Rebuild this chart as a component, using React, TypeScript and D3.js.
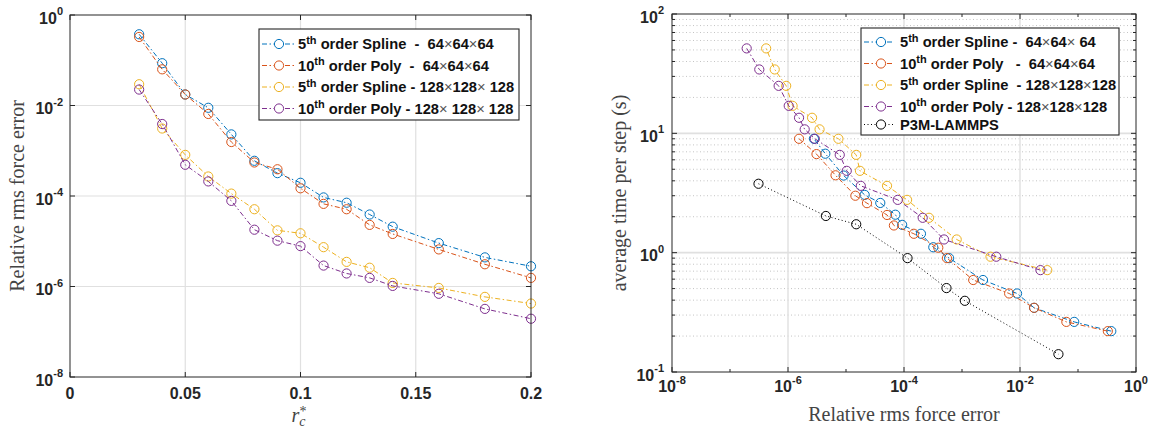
import React from 'react';
import * as d3 from 'd3';

// ---------- data ----------
const rc = [0.03, 0.04, 0.05, 0.06, 0.07, 0.08, 0.09, 0.10, 0.11, 0.12, 0.13, 0.14, 0.16, 0.18, 0.20];
const errSpline64 = [0.375, 0.086, 0.0175, 0.0089, 0.0023, 6.0e-4, 3.2e-4, 1.96e-4, 9.3e-5, 7.1e-5, 3.9e-5, 2.1e-5, 9.1e-6, 4.4e-6, 2.8e-6];
const errPoly64 = [0.327, 0.063, 0.0175, 0.0065, 0.00156, 5.5e-4, 3.9e-4, 1.48e-4, 6.7e-5, 5.1e-5, 2.3e-5, 1.45e-5, 6.6e-6, 3.1e-6, 1.55e-6];
const errSpline128 = [0.0295, 0.0031, 8.1e-4, 2.7e-4, 1.13e-4, 5.1e-5, 1.74e-5, 1.5e-5, 7.4e-6, 3.5e-6, 2.6e-6, 1.2e-6, 9.3e-7, 5.9e-7, 4.2e-7];
const errPoly128 = [0.0225, 0.0039, 4.9e-4, 2.1e-4, 7.8e-5, 1.8e-5, 1.03e-5, 7.8e-6, 2.9e-6, 1.94e-6, 1.55e-6, 1.03e-6, 6.9e-7, 3.2e-7, 1.94e-7];

const timeSpline64 = [0.22, 0.263, 0.345, 0.455, 0.59, 0.90, 1.11, 1.44, 1.71, 2.08, 2.61, 3.05, 4.43, 6.75, 9.0];
const timePoly64 = [0.22, 0.263, 0.345, 0.455, 0.59, 0.90, 1.10, 1.44, 1.69, 2.07, 2.6, 3.0, 4.45, 6.7, 9.0];
const timeSpline128 = [0.714, 0.925, 1.29, 1.96, 2.77, 3.63, 4.85, 6.6, 9.0, 10.8, 13.5, 17.0, 25.0, 34.3, 51.5];
const timePoly128 = [0.714, 0.925, 1.29, 1.96, 2.77, 3.63, 4.85, 6.6, 9.0, 10.8, 13.5, 17.0, 25.0, 34.3, 51.5];

const errP3M = [3.1e-7, 4.5e-6, 1.5e-5, 1.15e-4, 5.4e-4, 1.12e-3, 0.046];
const timeP3M = [3.78, 2.03, 1.73, 0.90, 0.505, 0.395, 0.141];

const leftXTicks = [0, 0.05, 0.1, 0.15, 0.2];
const leftXTickLabels = ['0', '0.05', '0.1', '0.15', '0.2'];
const leftYTickExps = [0, -2, -4, -6, -8];
const rightXTickExps = [-8, -6, -4, -2, 0];
const rightYTickExps = [2, 1, 0, -1];

const leftLegend = [
  ['5', 'th', ' order Spline  -  64×64×64'],
  ['10', 'th', ' order Poly  -  64×64×64'],
  ['5', 'th', ' order Spline - 128×128× 128'],
  ['10', 'th', ' order Poly - 128× 128× 128'],
];
const rightLegend = [
  ['5', 'th', ' order Spline -  64×64× 64'],
  ['10', 'th', ' order Poly   -  64×64×64'],
  ['5', 'th', ' order Spline  - 128×128×128'],
  ['10', 'th', ' order Poly - 128×128×128'],
  ['P3M-LAMMPS', '', ''],
];

const COLORS = ['#0072BD', '#D95319', '#EDB120', '#7E2F8E', '#000000'];
const DASHDOT = '5,2.5,1.5,2.5';
const DOTTED = '1,2.5';

const SANS = '"Liberation Sans", Arial, Helvetica, sans-serif';
const SERIF = '"Liberation Serif", "Times New Roman", serif';
const AXIS = '#262626';
const GRID = '#e0e0e0';

function Pow10({ x, y, exp, anchor }: { x: number; y: number; exp: number; anchor: string }) {
  return (
    <text x={x} y={y} textAnchor={anchor} fontFamily={SANS} fontWeight="bold" fontSize={16} fill={AXIS}>
      <tspan>10</tspan>
      <tspan dy={-8.5} fontSize={11}>{String(exp)}</tspan>
    </text>
  );
}

function LegendText({ x, y, parts }: { x: number; y: number; parts: string[] }) {
  const [num, sup, rest] = parts;
  const pieces = rest.split('×');
  const out: any[] = [];
  out.push(<tspan key="n">{num}</tspan>);
  if (sup) out.push(<tspan key="s" dy={-5.5} fontSize={11}>{sup}</tspan>);
  pieces.forEach((p, i) => {
    if (i > 0) out.push(<tspan key={'x' + i} fontWeight="normal" fill="#555">×</tspan>);
    out.push(<tspan key={'p' + i} dy={i === 0 && sup ? 5.5 : 0}>{p}</tspan>);
  });
  return (
    <text x={x} y={y} fontFamily={SANS} fontWeight="bold" fontSize={14.7} fill="#111" style={{ whiteSpace: 'pre' }}>
      {out}
    </text>
  );
}

export default function App() {
  // left axes
  const L = { x0: 70, x1: 531, y0: 15, y1: 377 };
  const lx = d3.scaleLinear().domain([0, 0.2]).range([L.x0, L.x1]);
  const ly = d3.scaleLog().domain([1e-8, 1]).range([L.y1, L.y0]);
  // right axes
  const R = { x0: 672, x1: 1136, y0: 14, y1: 372 };
  const rx = d3.scaleLog().domain([1e-8, 1]).range([R.x0, R.x1]);
  const ry = d3.scaleLog().domain([0.1, 100]).range([R.y1, R.y0]);

  const leftSeries = [errSpline64, errPoly64, errSpline128, errPoly128];
  const rightSeries = [
    { xs: errSpline64, ys: timeSpline64 },
    { xs: errPoly64, ys: timePoly64 },
    { xs: errSpline128, ys: timeSpline128 },
    { xs: errPoly128, ys: timePoly128 },
    { xs: errP3M, ys: timeP3M },
  ];

  const lineL = d3.line<[number, number]>().x((d) => lx(d[0])).y((d) => ly(d[1]));
  const lineR = d3.line<[number, number]>().x((d) => rx(d[0])).y((d) => ry(d[1]));

  const minorY: number[] = [];
  [0.1, 1, 10].forEach((b) => {
    for (let k = 2; k <= 9; k++) minorY.push(b * k);
  });
  const minorXExps = [-7, -5, -3, -1];

  const TK = 5;
  const lcx = (L.x0 + L.x1) / 2;

  return (
    <svg width={1157} height={428} style={{ position: 'absolute', left: 0, top: 0, background: '#fff' }}>
      <rect x={0} y={0} width={1157} height={428} fill="#fff" />

      {/* ===== LEFT PLOT ===== */}
      <g>
        {leftXTicks.slice(1, -1).map((t) => (
          <line key={'lgx' + t} x1={lx(t)} x2={lx(t)} y1={L.y0} y2={L.y1} stroke={GRID} strokeWidth={1.2} />
        ))}
        {leftYTickExps.slice(1, -1).map((e) => (
          <line key={'lgy' + e} x1={L.x0} x2={L.x1} y1={ly(Math.pow(10, e))} y2={ly(Math.pow(10, e))} stroke={GRID} strokeWidth={1.2} />
        ))}
        {leftSeries.map((s, i) => {
          const pts = rc.map((r, j) => [r, s[j]] as [number, number]);
          return (
            <g key={'ls' + i}>
              <path d={lineL(pts) || ''} fill="none" stroke={COLORS[i]} strokeWidth={1} strokeDasharray={DASHDOT} />
              {pts.map((p, j) => (
                <circle key={j} cx={lx(p[0])} cy={ly(p[1])} r={4.6} fill="none" stroke={COLORS[i]} strokeWidth={1} />
              ))}
            </g>
          );
        })}
        <rect x={L.x0} y={L.y0} width={L.x1 - L.x0} height={L.y1 - L.y0} fill="none" stroke={AXIS} strokeWidth={1} />
        {leftXTicks.map((t) => (
          <g key={'ltx' + t}>
            <line x1={lx(t)} x2={lx(t)} y1={L.y1} y2={L.y1 - TK} stroke={AXIS} />
            <line x1={lx(t)} x2={lx(t)} y1={L.y0} y2={L.y0 + TK} stroke={AXIS} />
          </g>
        ))}
        {leftYTickExps.map((e) => (
          <g key={'lty' + e}>
            <line x1={L.x0} x2={L.x0 + TK} y1={ly(Math.pow(10, e))} y2={ly(Math.pow(10, e))} stroke={AXIS} />
            <line x1={L.x1} x2={L.x1 - TK} y1={ly(Math.pow(10, e))} y2={ly(Math.pow(10, e))} stroke={AXIS} />
          </g>
        ))}
        {leftXTicks.map((t, i) => (
          <text key={'ltl' + t} x={lx(t)} y={L.y1 + 22} textAnchor="middle" fontFamily={SANS} fontWeight="bold" fontSize={16} fill={AXIS}>
            {leftXTickLabels[i]}
          </text>
        ))}
        {leftYTickExps.map((e) => (
          <Pow10 key={'lyl' + e} x={L.x0 - 7} y={ly(Math.pow(10, e)) + 8.5} exp={e} anchor="end" />
        ))}
        <text transform={`translate(24,${(L.y0 + L.y1) / 2}) rotate(-90)`} textAnchor="middle" fontFamily={SERIF} fontSize={20} fill="#444">
          Relative rms force error
        </text>
        {/* r_c^* as one text */}
        <text x={lcx - 9} y={422} fontFamily={SERIF} fontStyle="italic" fontSize={20} fill="#444">
          <tspan>r</tspan>
          <tspan dy={4} fontSize={14}>c</tspan>
          <tspan dx={-6} dy={-10} fontSize={14} fontStyle="normal">*</tspan>
        </text>

        {/* legend */}
        <rect x={259} y={29} width={260} height={91} fill="#fff" stroke={AXIS} strokeWidth={1.1} />
        {leftLegend.map((parts, i) => {
          const y = 44 + i * 21.5;
          return (
            <g key={'lleg' + i}>
              <line x1={262} x2={294} y1={y} y2={y} stroke={COLORS[i]} strokeWidth={1} strokeDasharray={DASHDOT} />
              <circle cx={279} cy={y} r={4.6} fill="#fff" stroke={COLORS[i]} strokeWidth={1} />
              <LegendText x={298} y={y + 5} parts={parts} />
            </g>
          );
        })}
      </g>

      {/* ===== RIGHT PLOT ===== */}
      <g>
        {minorY.filter((v) => v !== 1 && v !== 10).map((v) => (
          <line key={'rmy' + v} x1={R.x0} x2={R.x1} y1={ry(v)} y2={ry(v)} stroke="#c4c4c4" strokeWidth={1} strokeDasharray={DOTTED} />
        ))}
        {rightXTickExps.slice(1, -1).map((e) => (
          <line key={'rgx' + e} x1={rx(Math.pow(10, e))} x2={rx(Math.pow(10, e))} y1={R.y0} y2={R.y1} stroke={GRID} strokeWidth={1.4} />
        ))}
        {rightYTickExps.slice(1, -1).map((e) => (
          <line key={'rgy' + e} x1={R.x0} x2={R.x1} y1={ry(Math.pow(10, e))} y2={ry(Math.pow(10, e))} stroke={GRID} strokeWidth={1.6} />
        ))}
        {rightSeries.map((s, i) => {
          const pts = s.xs.map((x, j) => [x, s.ys[j]] as [number, number]);
          return (
            <g key={'rs' + i}>
              <path d={lineR(pts) || ''} fill="none" stroke={COLORS[i]} strokeWidth={1} strokeDasharray={i === 4 ? DOTTED : DASHDOT} />
              {pts.map((p, j) => (
                <circle key={j} cx={rx(p[0])} cy={ry(p[1])} r={4.6} fill="none" stroke={COLORS[i]} strokeWidth={1} />
              ))}
            </g>
          );
        })}
        <rect x={R.x0} y={R.y0} width={R.x1 - R.x0} height={R.y1 - R.y0} fill="none" stroke={AXIS} strokeWidth={1} />
        {rightXTickExps.map((e) => (
          <g key={'rtx' + e}>
            <line x1={rx(Math.pow(10, e))} x2={rx(Math.pow(10, e))} y1={R.y1} y2={R.y1 - TK} stroke={AXIS} />
            <line x1={rx(Math.pow(10, e))} x2={rx(Math.pow(10, e))} y1={R.y0} y2={R.y0 + TK} stroke={AXIS} />
          </g>
        ))}
        {minorXExps.map((e) => (
          <g key={'rmx' + e}>
            <line x1={rx(Math.pow(10, e))} x2={rx(Math.pow(10, e))} y1={R.y1} y2={R.y1 - 3} stroke={AXIS} />
            <line x1={rx(Math.pow(10, e))} x2={rx(Math.pow(10, e))} y1={R.y0} y2={R.y0 + 3} stroke={AXIS} />
          </g>
        ))}
        {rightYTickExps.map((e) => (
          <g key={'rty' + e}>
            <line x1={R.x0} x2={R.x0 + TK} y1={ry(Math.pow(10, e))} y2={ry(Math.pow(10, e))} stroke={AXIS} />
            <line x1={R.x1} x2={R.x1 - TK} y1={ry(Math.pow(10, e))} y2={ry(Math.pow(10, e))} stroke={AXIS} />
          </g>
        ))}
        {minorY.map((v) => (
          <g key={'rmt' + v}>
            <line x1={R.x0} x2={R.x0 + 3} y1={ry(v)} y2={ry(v)} stroke={AXIS} />
            <line x1={R.x1} x2={R.x1 - 3} y1={ry(v)} y2={ry(v)} stroke={AXIS} />
          </g>
        ))}
        {rightXTickExps.map((e) => (
          <Pow10 key={'rxl' + e} x={rx(Math.pow(10, e))} y={R.y1 + 20} exp={e} anchor="middle" />
        ))}
        {rightYTickExps.map((e) => (
          <Pow10 key={'ryl' + e} x={R.x0 - 8} y={ry(Math.pow(10, e)) + 8.5} exp={e} anchor="end" />
        ))}
        <text transform={`translate(626,${(R.y0 + R.y1) / 2}) rotate(-90)`} textAnchor="middle" fontFamily={SERIF} fontSize={20} fill="#444">
          average time per step (s)
        </text>
        <text x={(R.x0 + R.x1) / 2} y={421} textAnchor="middle" fontFamily={SERIF} fontSize={20} fill="#444">
          Relative rms force error
        </text>

        {/* legend */}
        <rect x={861} y={28} width={258} height={107} fill="#fff" stroke={AXIS} strokeWidth={1.1} />
        {rightLegend.map((parts, i) => {
          const y = i < 4 ? 42 + i * 21.5 : 124.5;
          return (
            <g key={'rleg' + i}>
              <line x1={864} x2={894} y1={y} y2={y} stroke={COLORS[i]} strokeWidth={1} strokeDasharray={i === 4 ? DOTTED : DASHDOT} />
              <circle cx={881} cy={y} r={4.6} fill="#fff" stroke={COLORS[i]} strokeWidth={1} />
              <LegendText x={900} y={y + 5} parts={parts} />
            </g>
          );
        })}
      </g>
    </svg>
  );
}
